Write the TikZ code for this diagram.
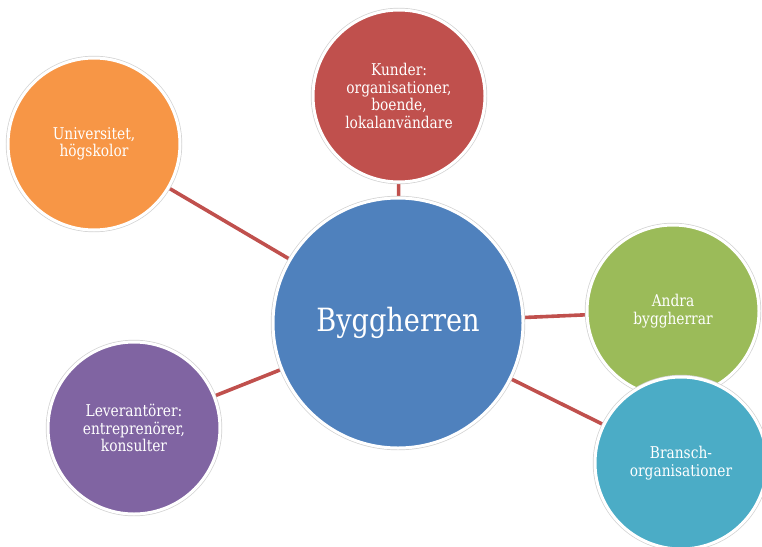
\documentclass[tikz,border=0pt]{standalone}
\usepackage{fontspec}
\setmainfont{DejaVu Serif}[FakeStretch=0.85]
\usetikzlibrary{backgrounds}
\definecolor{cblue}{HTML}{4F81BD}
\definecolor{cred}{HTML}{C0504D}
\definecolor{corange}{HTML}{F79646}
\definecolor{cgreen}{HTML}{9BBB59}
\definecolor{caqua}{HTML}{4BACC6}
\definecolor{cpurple}{HTML}{8064A2}
\tikzset{
  bubble/.style={circle, draw=white, line width=3pt, text=white,
    preaction={draw=black!18, line width=4.4pt},
    minimum size=172pt, inner sep=0pt, align=center,
    font=\fontsize{16.2}{17.5}\selectfont},
  hub/.style={bubble, minimum size=250pt, font=\fontsize{32}{36}\selectfont},
  link/.style={draw=cred, line width=3.6pt}
}
\begin{document}
\begin{tikzpicture}[x=1pt,y=-1pt]
\useasboundingbox (0,0) rectangle (762,546);
\clip (0,0) rectangle (762,546);
\node[hub, fill=cblue] (main) at (398,323) {Byggherren};
\node[bubble, fill=cred] (kund) at (399,96) {Kunder:\\organisationer,\\boende,\\lokalanvändare};
\node[bubble, fill=corange] (univ) at (94,144) {Universitet,\\högskolor};
\node[bubble, fill=cpurple] (lev) at (134,428) {Leverantörer:\\entreprenörer,\\konsulter};
\node[bubble, fill=cgreen] (andra) at (673,311) {Andra\\byggherrar};
\node[bubble, fill=caqua] (bransch) at (681,463) {Bransch-\\organisationer};
\begin{scope}[on background layer]
  \draw[link] (main) -- (kund);
  \draw[link] (main) -- (univ);
  \draw[link] (main) -- (lev);
  \draw[link] (main) -- (andra);
  \draw[link] (main) -- (bransch);
\end{scope}
\end{tikzpicture}
\end{document}
